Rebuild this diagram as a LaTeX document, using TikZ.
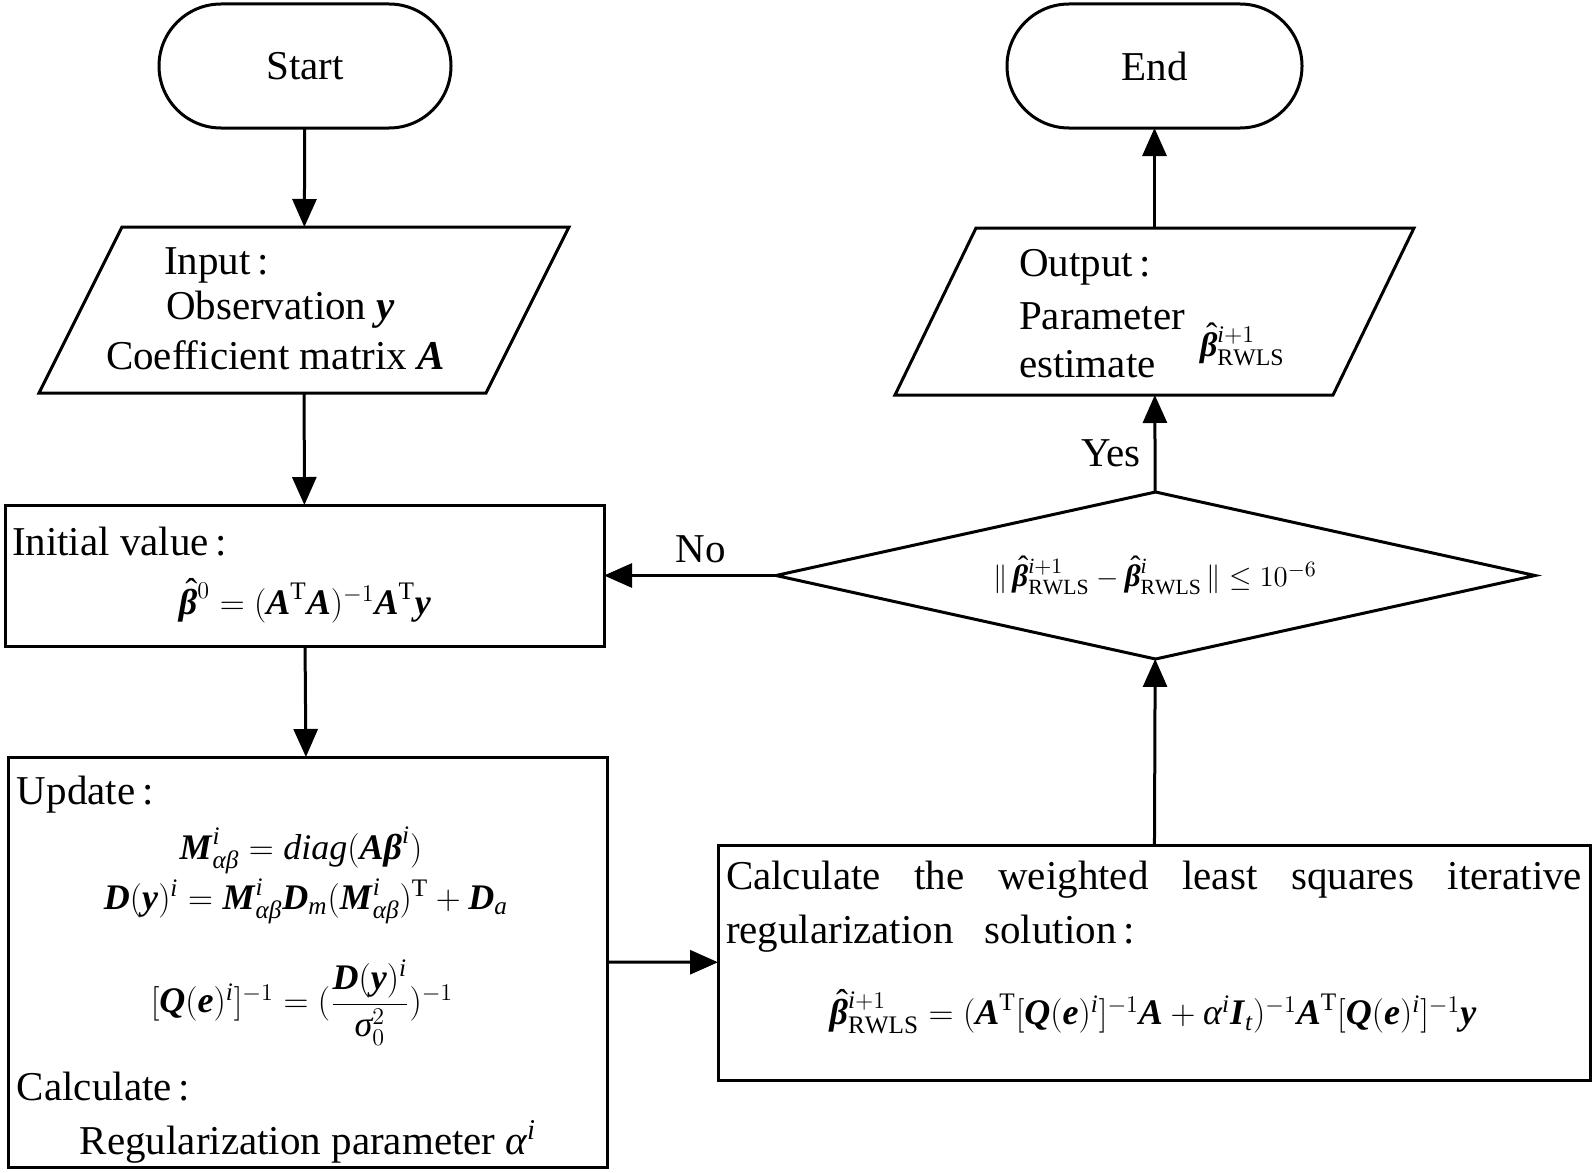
\documentclass[tikz,border=0pt]{standalone}
\usepackage{amsmath}
\usepackage{fontspec}
\setmainfont{Liberation Serif}
\usetikzlibrary{arrows.meta,shapes.geometric}
\newcommand\bi[1]{\textbf{\textit{#1}}}
\newcommand\ti[1]{\textit{#1}}
\newcommand\bhat{\mbox{\ooalign{\bi{β}\cr\hidewidth\kern0.18em\raisebox{0.3em}[0pt][0pt]{\textnormal{ˆ}}\hidewidth\cr}}}
\begin{document}
\begin{tikzpicture}[x=0.5pt,y=-0.5pt,
  every node/.style={font=\fontsize{20.5}{25}\selectfont, inner sep=0pt, outer sep=0pt},
  box/.style={draw, line width=1.5pt, rectangle},
  term/.style={draw, line width=1.5pt, rectangle, rounded corners=31pt, minimum height=62pt},
  ghost/.style={rectangle},
  outline/.style={line width=1.5pt},
  arr/.style={line width=1.5pt, -{Triangle[length=14pt,width=12pt]}},
  mathf/.style={font=\fontsize{18}{22}\selectfont},
  smallmath/.style={font=\fontsize{17}{21}\selectfont},
  decmath/.style={font=\fontsize{15.5}{19}\selectfont}]
\useasboundingbox (0,0) rectangle (1594,1172);

% terminals
\node[term, minimum width=146pt] (start) at (305,66) {Start};
\node[term, minimum width=147.5pt] (end) at (1154.5,66) {End};

% input parallelogram
\node[ghost, minimum width=223.5pt, minimum height=83pt] (inp) at (304,310) {};
\draw[outline] ([xshift=20.75pt]inp.north west) -- ([xshift=20.75pt]inp.north east)
  -- ([xshift=-20.75pt]inp.south east) -- ([xshift=-20.75pt]inp.south west) -- cycle;
\node[anchor=west] (inpT1) at (164,265) {Input\,:};
\node[anchor=west] (inpT2) at (166,310) {Observation $\bi{y}$};
\node[anchor=west] (inpT3) at (106,355) {Coefficient matrix $\bi{A}$};

% output parallelogram
\node[ghost, minimum width=219pt, minimum height=83.5pt] (out) at (1154.5,311.5) {};
\draw[outline] ([xshift=20.25pt]out.north west) -- ([xshift=20.25pt]out.north east)
  -- ([xshift=-20.25pt]out.south east) -- ([xshift=-20.25pt]out.south west) -- cycle;
\node[anchor=west] (outT1) at (1019,267) {Output\,:};
\node[anchor=west] (outT2) at (1019,316) {Parameter};
\node[anchor=west] (outT3) at (1019,364) {estimate};
\node[anchor=west, smallmath] (outT4) at (1200,346) {$\bhat^{\ti{i}+1}_{\mathrm{RWLS}}$};

% initial value
\node[box, minimum width=299.5pt, minimum height=70.5pt] (init) at (304.5,575.5) {};
\node[anchor=west] (initT1) at (12,542) {Initial value\,:};
\node[mathf] (initT2) at (305,603) {$\bhat^{0} = (\bi{A}^{\mathrm{T}}\bi{A})^{-1}\bi{A}^{\mathrm{T}}\bi{y}$};

% update
\node[box, minimum width=299.5pt, minimum height=205pt] (upd) at (307.5,962) {};
\node[anchor=west] (updT1) at (17,795) {Update\,:};
\node[mathf] (updE1) at (301,850) {$\bi{M}^{\ti{i}}_{\ti{αβ}} = \ti{diag}(\bi{A}\bi{β}^{\ti{i}})$};
\node[mathf] (updE2) at (306,901) {$\bi{D}(\bi{y})^{\ti{i}} = \bi{M}^{\ti{i}}_{\ti{αβ}}\bi{D}_{\ti{m}}(\bi{M}^{\ti{i}}_{\ti{αβ}})^{\mathrm{T}} + \bi{D}_{\ti{a}}$};
\node[mathf] (updE3) at (302,1003) {$[\bi{Q}(\bi{e})^{\ti{i}}]^{-1} = (\dfrac{\bi{D}(\bi{y})^{\ti{i}}}{\ti{σ}_{0}^{2}})^{-1}$};
\node[anchor=west] (updT2) at (17,1087) {Calculate\,:};
\node (updT3) at (308,1142) {Regularization parameter $\ti{α}^{\ti{i}}$};

% calculate
\node[box, minimum width=436pt, minimum height=117.5pt] (calc) at (1154,962.5) {};
\node[anchor=west] (calcT1) at (726,880) {\makebox[428pt][s]{Calculate the weighted least squares iterative}};
\node[anchor=west] (calcT2) at (726,934) {regularization\hspace{0.5em} solution\,:};
\node[mathf] (calcE) at (1153,1013) {$\bhat^{\ti{i}+1}_{\mathrm{RWLS}} = (\bi{A}^{\mathrm{T}}[\bi{Q}(\bi{e})^{\ti{i}}]^{-1}\bi{A} + \ti{α}^{\ti{i}}\bi{I}_{\ti{t}})^{-1}\bi{A}^{\mathrm{T}}[\bi{Q}(\bi{e})^{\ti{i}}]^{-1}\bi{y}$};

% decision
\node[diamond, draw, line width=1.5pt, minimum width=379.5pt, minimum height=83.5pt] (dec) at (1155.5,575.5) {};
\node[decmath] (decT) at (1155,577) {$\|\,\bhat^{\ti{i}+1}_{\mathrm{RWLS}} - \bhat^{\ti{i}}_{\mathrm{RWLS}}\,\|\le 10^{-6}$};

% connectors
\draw[arr] (start) -- (inp);
\draw[arr] (inp) -- (init);
\draw[arr] (init) -- (upd);
\draw[arr] (upd) -- (calc);
\draw[arr] (calc) -- (dec);
\draw[arr] (dec) -- (out);
\draw[arr] (out) -- (end);
\draw[arr] (dec.west) -- (init.east);

\node (no) at (701,549) {No};
\node (yes) at (1111,453) {Yes};
\end{tikzpicture}
\end{document}
